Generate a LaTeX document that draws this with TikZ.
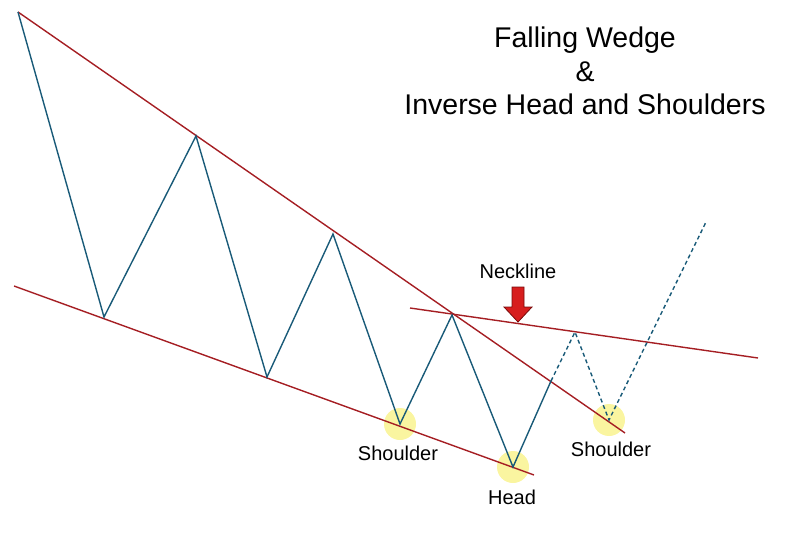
\documentclass[tikz,border=0pt]{standalone}
\usepackage{fontspec}
\setmainfont{Liberation Sans}
\begin{document}
\begin{tikzpicture}[x=1pt,y=-1pt,
  wedge/.style={draw={rgb,255:red,165;green,30;blue,35},line width=1.4pt},
  price/.style={draw={rgb,255:red,25;green,90;blue,120},line width=1.4pt},
  pricedash/.style={price,dash pattern=on 4pt off 3pt},
  glow/.style={circle,fill={rgb,255:red,250;green,245;blue,160},minimum size=32pt,inner sep=0pt},
  lbl/.style={font=\fontsize{20}{22}\selectfont,inner sep=0pt},
  ttl/.style={font=\fontsize{28.5}{32}\selectfont,inner sep=0pt}]
\useasboundingbox (0,0) rectangle (796,535);
\node[glow] (g1) at (400,424) {};
\node[glow] (g2) at (513,467) {};
\node[glow] (g3) at (609,420) {};
\coordinate (p0) at (18,12);
\coordinate (p1) at (104,317);
\coordinate (p2) at (196,136);
\coordinate (p3) at (267,377);
\coordinate (p4) at (333,234);
\coordinate (p5) at (400,424);
\coordinate (p6) at (452,315);
\coordinate (p7) at (513,467);
\coordinate (p8) at (551,381);
\coordinate (p9) at (575,332);
\coordinate (p10) at (609,420);
\coordinate (p11) at (706,222);
\coordinate (w1) at (625,433);
\coordinate (l0) at (14,286);
\coordinate (l1) at (534,475);
\coordinate (n0) at (410,308);
\coordinate (n1) at (758,358);
\draw[wedge] (p0) -- (w1);
\draw[wedge] (l0) -- (l1);
\draw[wedge] (n0) -- (n1);
\draw[price,line join=miter] (p0) -- (p1) -- (p2) -- (p3) -- (p4) -- (p5) -- (p6) -- (p7) -- (p8);
\draw[pricedash] (p8) -- (p9) -- (p10) -- (p11);
\draw[draw={rgb,255:red,120;green,10;blue,10},fill={rgb,255:red,215;green,30;blue,30},line width=0.8pt]
  (512,287) -- (524,287) -- (524,307) -- (532,307) -- (518,322) -- (504,307) -- (512,307) -- cycle;
\node[lbl] (neck) at (518,271) {Neckline};
\node[lbl] (s1) at (398,453) {Shoulder};
\node[lbl] (hd) at (512,497) {Head};
\node[lbl] (s2) at (611,449) {Shoulder};
\node[ttl] (t1) at (585,40) {Falling Wedge};
\node[ttl] (t2) at (585,72) {\&};
\node[ttl] (t3) at (585,104) {Inverse Head and Shoulders};
\end{tikzpicture}
\end{document}
